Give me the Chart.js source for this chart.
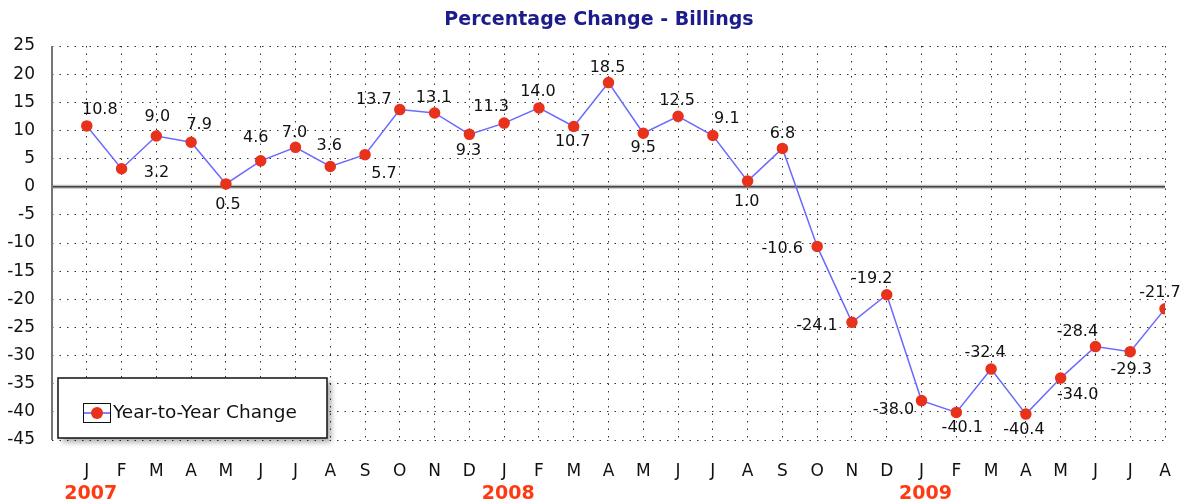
<!DOCTYPE html>
<html>
<head>
<meta charset="utf-8">
<script src="https://cdn.jsdelivr.net/npm/chart.js@4"></script>
<style>
  html, body { margin: 0; padding: 0; background: #fff; }
  #wrap { width: 1183px; height: 502px; }
</style>
</head>
<body>
<div id="wrap"><canvas id="chart" width="1183" height="502"></canvas></div>
<script>
// Chart data
const months = ['J','F','M','A','M','J','J','A','S','O','N','D',
                'J','F','M','A','M','J','J','A','S','O','N','D',
                'J','F','M','A','M','J','J','A'];
const years = [{ index: 0, label: '2007' }, { index: 12, label: '2008' }, { index: 24, label: '2009' }];
const yoyChange = [10.8, 3.2, 9.0, 7.9, 0.5, 4.6, 7.0, 3.6, 5.7, 13.7, 13.1, 9.3,
                   11.3, 14.0, 10.7, 18.5, 9.5, 12.5, 9.1, 1.0, 6.8, -10.6, -24.1, -19.2,
                   -38.0, -40.1, -32.4, -40.4, -34.0, -28.4, -29.3, -21.7];
const yTicks = [25, 20, 15, 10, 5, 0, -5, -10, -15, -20, -25, -30, -35, -40, -45];

// where each value label sits relative to its point (dx, dy in px)
const labelOffsets = [
    [13,-16], [35,4], [1,-19], [8,-17], [2,21], [-5,-23], [-1,-14], [-1,-21], [19,19], [-26,-10], [-1,-15], [-1,16],
    [-13,-16], [-1,-16], [-1,15], [-1,-15], [0,15], [-1,-16], [14,-17], [-1,21], [0,-15], [-35,2], [-35,3], [-15,-16],
    [-28,9], [6,15], [-6,-16], [-2,16], [17,17], [-18,-15], [1,18], [-5,-16]
];

const FONT = '"DejaVu Sans", Verdana, sans-serif';

// Title, zero line, left axis, value labels, years and legend
const decorations = {
    id: 'decorations',
    beforeDatasetsDraw(chart) {
        const ctx = chart.ctx;
        const area = chart.chartArea;
        const y = chart.scales.y;
        const y0 = y.getPixelForValue(0);
        ctx.save();
        // zero line
        ctx.strokeStyle = 'rgba(0,0,0,0.25)';
        ctx.lineWidth = 4;
        ctx.beginPath();
        ctx.moveTo(area.left, y0);
        ctx.lineTo(area.right, y0);
        ctx.stroke();
        ctx.strokeStyle = '#444';
        ctx.lineWidth = 1.5;
        ctx.beginPath();
        ctx.moveTo(area.left, y0);
        ctx.lineTo(area.right, y0);
        ctx.stroke();
        // left axis
        ctx.strokeStyle = '#777';
        ctx.lineWidth = 2;
        ctx.beginPath();
        ctx.moveTo(area.left, area.top);
        ctx.lineTo(area.left, area.bottom);
        ctx.stroke();
        ctx.restore();
    },
    afterDatasetsDraw(chart) {
        const ctx = chart.ctx;
        const x = chart.scales.x;
        const y = chart.scales.y;
        ctx.save();
        // title
        ctx.font = 'bold 19px ' + FONT;
        ctx.fillStyle = '#1c1c8a';
        ctx.textAlign = 'center';
        ctx.textBaseline = 'middle';
        ctx.fillText('Percentage Change - Billings', 599, 20);

        // value labels
        ctx.font = '16px ' + FONT;
        ctx.fillStyle = '#111';
        yoyChange.forEach((v, i) => {
            const off = labelOffsets[i];
            ctx.fillText(v.toFixed(1), x.getPixelForValue(i) + off[0], y.getPixelForValue(v) + off[1]);
        });

        // year labels
        ctx.font = 'bold 19px ' + FONT;
        ctx.fillStyle = '#ff3a12';
        years.forEach(yr => {
            ctx.fillText(yr.label, x.getPixelForValue(yr.index) + 4, 494);
        });

        // legend box
        const lx = 58, ly = 378, lw = 269, lh = 60;
        ctx.shadowColor = 'rgba(0,0,0,0.35)';
        ctx.shadowBlur = 6;
        ctx.shadowOffsetX = 4;
        ctx.shadowOffsetY = 4;
        ctx.fillStyle = '#fff';
        ctx.fillRect(lx, ly, lw, lh);
        ctx.shadowColor = 'transparent';
        ctx.strokeStyle = '#111';
        ctx.lineWidth = 1.5;
        ctx.strokeRect(lx, ly, lw, lh);
        // legend icon
        ctx.lineWidth = 1;
        ctx.strokeRect(83.5, 403.5, 27, 19);
        ctx.strokeStyle = '#5a5aff';
        ctx.lineWidth = 1.5;
        ctx.beginPath();
        ctx.moveTo(84, 413);
        ctx.lineTo(110, 413);
        ctx.stroke();
        ctx.fillStyle = '#e8321c';
        ctx.beginPath();
        ctx.arc(97, 413, 6, 0, Math.PI * 2);
        ctx.fill();
        ctx.fillStyle = '#111';
        ctx.font = '18.5px ' + FONT;
        ctx.textAlign = 'left';
        ctx.fillText('Year-to-Year Change', 113, 413);
        ctx.restore();
    }
};

new Chart(document.getElementById('chart'), {
    type: 'line',
    data: {
        datasets: [{
            label: 'Year-to-Year Change',
            data: yoyChange.map((v, i) => ({ x: i, y: v })),
            borderColor: '#6a6aff',
            borderWidth: 1.5,
            pointBackgroundColor: '#e8321c',
            pointBorderColor: '#e8321c',
            pointRadius: 5,
            tension: 0
        }]
    },
    options: {
        responsive: false,
        animation: false,
        layout: { padding: { left: 0, right: 18, top: 46, bottom: 0 } },
        plugins: {
            legend: { display: false },
            title: { display: false },
            tooltip: { enabled: false }
        },
        scales: {
            x: {
                type: 'linear',
                min: -1,
                max: months.length - 1,
                afterBuildTicks: axis => {
                    axis.ticks = [{ value: -1 }].concat(months.map((m, i) => ({ value: i })));
                },
                afterFit: axis => {
                    axis.height = 62;
                    axis.paddingLeft = 0;
                    axis.paddingRight = 0;
                },
                ticks: {
                    autoSkip: false,
                    maxRotation: 0,
                    padding: 21,
                    color: '#111',
                    font: { family: FONT, size: 17 },
                    callback: v => (v >= 0 ? months[v] : '')
                },
                grid: { color: '#333', lineWidth: 1, drawTicks: false },
                border: { display: false, dash: [1.5, 6] }
            },
            y: {
                min: -45,
                max: 25,
                afterBuildTicks: axis => {
                    axis.ticks = yTicks.map(v => ({ value: v }));
                },
                afterFit: axis => {
                    axis.width = 52;
                    axis.paddingTop = 0;
                    axis.paddingBottom = 0;
                },
                ticks: {
                    padding: 17,
                    color: '#111',
                    font: { family: FONT, size: 17 }
                },
                grid: { color: '#333', lineWidth: 1, drawTicks: false },
                border: { display: false, dash: [1.5, 6] }
            }
        }
    },
    plugins: [decorations]
});
</script>
</body>
</html>
